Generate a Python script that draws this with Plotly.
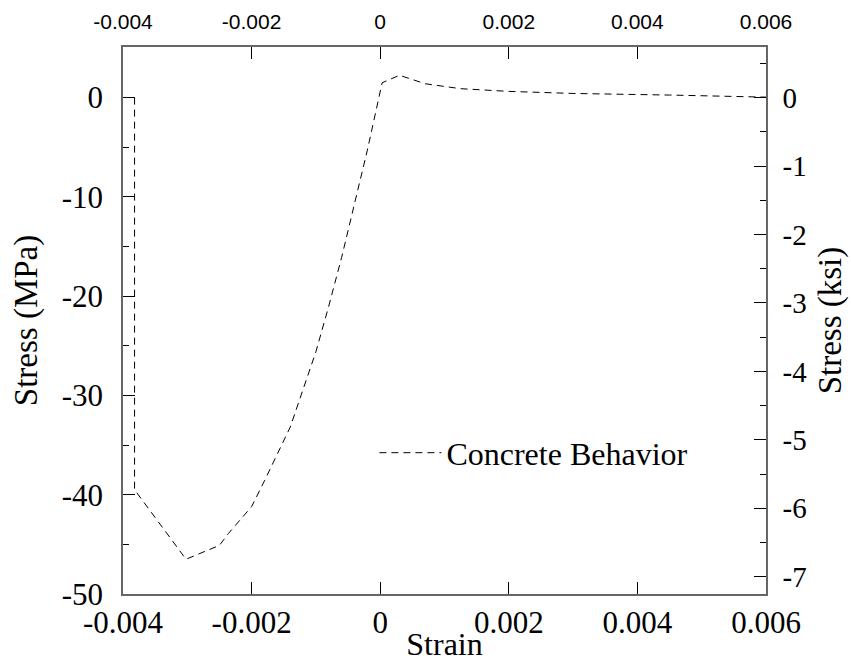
import plotly.graph_objects as go

# ---- data ----
strain = [-0.00382, -0.00382, -0.00302, -0.0025, -0.00236, -0.0020, -0.0018, -0.0016,
          -0.0014, -0.0012, -0.0010, -0.0008, -0.0006, -0.0004, -0.0002, 0.00003,
          0.0003, 0.0007, 0.00125, 0.0020, 0.0027, 0.0030, 0.0045, 0.0060]
stress_mpa = [0.0, -39.5, -46.5, -45.1, -43.9, -41.2, -38.6, -35.9,
              -33.2, -29.4, -25.6, -21.0, -16.1, -10.7, -5.3, 1.5,
              2.25, 1.4, 0.9, 0.63, 0.5, 0.42, 0.26, 0.05]
MPA_PER_KSI = 6.895
stress_ksi = [v / MPA_PER_KSI for v in stress_mpa]

x_ticks = [-0.004, -0.002, 0, 0.002, 0.004, 0.006]
x_ticktext = ["-0.004", "-0.002", "0", "0.002", "0.004", "0.006"]
y_ticks = [-50, -40, -30, -20, -10, 0]
y_ticktext = ["-50", "-40", "-30", "-20", "-10", "0"]
y2_ticks = [-7, -6, -5, -4, -3, -2, -1, 0]
y2_ticktext = ["-7", "-6", "-5", "-4", "-3", "-2", "-1", "0"]

x_range = [-0.004, 0.006]
y_range = [-50, 5.1]
y2_range = [y_range[0] / MPA_PER_KSI, y_range[1] / MPA_PER_KSI]

serif = "Liberation Serif, Times New Roman, serif"
sans = "Liberation Sans, Arial, sans-serif"
axcol = "#666666"

fig = go.Figure()
fig.add_trace(go.Scatter(
    x=strain, y=stress_mpa, mode="lines", name="Concrete Behavior",
    line=dict(color="black", width=1, dash="7px,5px"),
    xaxis="x", yaxis="y", hoverinfo="skip"))
# companion trace for the secondary (top / right) axes
fig.add_trace(go.Scatter(
    x=strain, y=stress_ksi, mode="lines", showlegend=False,
    line=dict(color="rgba(0,0,0,0)", width=0),
    xaxis="x2", yaxis="y2", hoverinfo="skip"))

fig.update_layout(
    width=851, height=662,
    margin=dict(l=123, r=85, t=47, b=68),
    plot_bgcolor="white", paper_bgcolor="white",
    showlegend=True,
    legend=dict(x=0.391, y=0.258, xanchor="left", yanchor="middle",
                font=dict(family=serif, size=32, color="black"),
                bgcolor="rgba(0,0,0,0)", itemwidth=62),
    xaxis=dict(range=x_range, tickvals=x_ticks, ticktext=x_ticktext,
               ticks="inside", ticklen=12, tickcolor="black", tickwidth=1,
               showline=True, linecolor=axcol, linewidth=1.5,
               showgrid=False, zeroline=False, ticklabelstandoff=0,
               automargin=False,
               tickfont=dict(family=serif, size=31, color="black"),
               title=dict(text="Strain", font=dict(family=serif, size=32, color="black"),
                          standoff=0)),
    xaxis2=dict(range=x_range, tickvals=x_ticks, ticktext=x_ticktext,
                overlaying="x", side="top", anchor="y",
                ticks="inside", ticklen=12, tickcolor="black", tickwidth=1,
                showline=True, linecolor=axcol, linewidth=1.5,
                showgrid=False, zeroline=False, ticklabelstandoff=8,
                automargin=False,
                tickfont=dict(family=sans, size=21, color="black")),
    yaxis=dict(range=y_range, tickvals=y_ticks, ticktext=y_ticktext,
               ticks="inside", ticklen=12, tickcolor="black", tickwidth=1,
               minor=dict(dtick=5, tick0=0, ticks="inside", ticklen=6, tickcolor="black"),
               showline=True, linecolor=axcol, linewidth=1.5,
               showgrid=False, zeroline=False, ticklabelstandoff=12,
               automargin=False,
               tickfont=dict(family=serif, size=31, color="black"),
               title=dict(text="Stress (MPa)", font=dict(family=serif, size=33, color="black"),
                          standoff=14)),
    yaxis2=dict(range=y2_range, tickvals=y2_ticks, ticktext=y2_ticktext,
                overlaying="y", side="right", anchor="x",
                ticks="inside", ticklen=12, tickcolor="black", tickwidth=1,
                minor=dict(dtick=0.5, tick0=0, ticks="inside", ticklen=6, tickcolor="black"),
                showline=True, linecolor=axcol, linewidth=1.5,
                showgrid=False, zeroline=False, ticklabelstandoff=9,
                automargin=False,
                tickfont=dict(family=serif, size=29, color="black"),
                title=dict(text="Stress (ksi)", font=dict(family=serif, size=33, color="black"),
                           standoff=12)),
)

fig.write_html("out.html")
